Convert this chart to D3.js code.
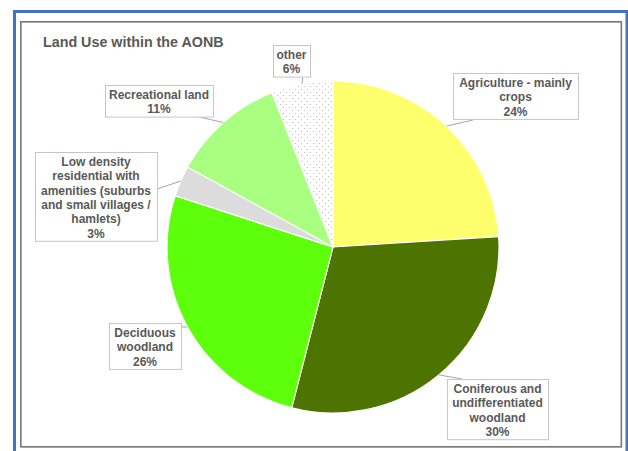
<!DOCTYPE html>
<html>
<head>
<meta charset="utf-8">
<script src="https://cdn.jsdelivr.net/npm/d3@7"></script>
<style>
  html, body { margin: 0; padding: 0; background: #fff; }
  svg { display: block; }
  text { font-family: "Liberation Sans", Arial, sans-serif; font-weight: bold; fill: #595959; }
</style>
</head>
<body>
<svg id="chart" width="628" height="451"></svg>
<script>
// Land use shares, clockwise from 12 o'clock
const categories = [
  ["Agriculture - mainly", "crops"],
  ["Coniferous and", "undifferentiated", "woodland"],
  ["Deciduous", "woodland"],
  ["Low density", "residential with", "amenities (suburbs", "and small villages /", "hamlets)"],
  ["Recreational land"],
  ["other"]
];
const shares = [24, 30, 26, 3, 11, 6];
const title = "Land Use within the AONB";

// Fill per slice ("pattern" = dotted fill)
const fills = ["#FFFF6E", "#4D7300", "#5EFF0A", "#DCDCDC", "#A8FF80", "pattern"];

// Label box layout: centre x, top y, width, and the point on the box the leader meets
const boxes = [
  { cx: 515.5, top: 73,  w: 125, tail: [473, 120] },
  { cx: 497.5, top: 379, w: 101, tail: [462, 379] },
  { cx: 145,   top: 323, w: 72,  tail: [181, 327] },
  { cx: 96,    top: 152, w: 122, tail: [157, 189] },
  { cx: 159,   top: 85,  w: 108, tail: [199, 117] },
  { cx: 291.5, top: 45,  w: 37,  tail: [303, 75] }
];

const svg = d3.select("#chart");
const cx = 333, cy = 247, R = 166;
const lineH = 14.3;

// Dotted pattern for the "other" slice
const defs = svg.append("defs");
const pat = defs.append("pattern")
  .attr("id", "dots").attr("patternUnits", "userSpaceOnUse")
  .attr("width", 6).attr("height", 6);
pat.append("rect").attr("width", 6).attr("height", 6).attr("fill", "#fff");
pat.append("circle").attr("cx", 1.5).attr("cy", 1.5).attr("r", 0.55).attr("fill", "#b4b4b4");
pat.append("circle").attr("cx", 4.5).attr("cy", 4.5).attr("r", 0.55).attr("fill", "#b4b4b4");

// Frames
svg.append("rect").attr("x", 14.5).attr("y", 11.5).attr("width", 612.5).attr("height", 460)
  .attr("fill", "#fff").attr("stroke", "#4472C4").attr("stroke-width", 3);
svg.append("rect").attr("x", 21.5).attr("y", 22.5).attr("width", 600.5).attr("height", 425)
  .attr("fill", "none").attr("stroke", "#d0d0d0").attr("stroke-width", 1);
svg.append("rect").attr("x", 20.75).attr("y", 21.75).attr("width", 600.5).attr("height", 425)
  .attr("fill", "none").attr("stroke", "#7a7a7a").attr("stroke-width", 1.5);

// Title
svg.append("text").attr("x", 43).attr("y", 46.5)
  .attr("font-size", 14.3).text(title);

// Pie
const data = shares.map((v, i) => ({ name: categories[i], value: v, fill: fills[i], box: boxes[i] }));
const pie = d3.pie().sort(null).value(d => d.value);
const arcs = pie(data);
const arc = d3.arc().innerRadius(0).outerRadius(R);

const g = svg.append("g").attr("transform", `translate(${cx},${cy})`);
g.selectAll("path.slice").data(arcs).join("path")
  .attr("class", "slice")
  .attr("d", arc)
  .attr("fill", d => d.data.fill === "pattern" ? "url(#dots)" : d.data.fill)
  .attr("stroke", "#fff").attr("stroke-width", 1.2);

// Leader lines from slice edge (mid angle) to the label box
const edge = d => {
  const a = (d.startAngle + d.endAngle) / 2;
  return [cx + R * Math.sin(a), cy - R * Math.cos(a)];
};
svg.selectAll("line.leader").data(arcs).join("line")
  .attr("class", "leader")
  .attr("x1", d => edge(d)[0]).attr("y1", d => edge(d)[1])
  .attr("x2", d => d.data.box.tail[0]).attr("y2", d => d.data.box.tail[1])
  .attr("stroke", "#a6a6a6").attr("stroke-width", 1);

// Label boxes
const lab = svg.selectAll("g.label").data(arcs).join("g").attr("class", "label");
lab.append("rect")
  .attr("x", d => d.data.box.cx - d.data.box.w / 2 + 0.5)
  .attr("y", d => d.data.box.top + 0.5)
  .attr("width", d => d.data.box.w)
  .attr("height", d => (d.data.name.length + 1) * lineH + 3)
  .attr("fill", "#fff").attr("stroke", "#c6c6c6").attr("stroke-width", 1);
lab.append("text")
  .attr("text-anchor", "middle")
  .attr("font-size", 12)
  .each(function (d) {
    const lines = d.data.name.concat([d.data.value + "%"]);
    d3.select(this).selectAll("tspan").data(lines).join("tspan")
      .attr("x", d.data.box.cx)
      .attr("y", (t, i) => d.data.box.top + 14 + i * lineH)
      .text(t => t);
  });
</script>
</body>
</html>
